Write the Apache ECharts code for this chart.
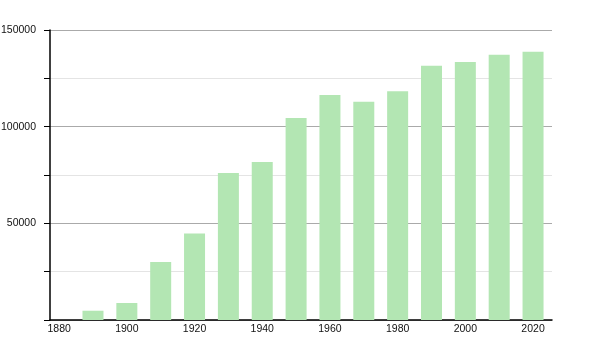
<!DOCTYPE html>
<html><head><meta charset="utf-8">
<script src="https://cdn.jsdelivr.net/npm/echarts@6/dist/echarts.min.js"></script>
<style>html,body{margin:0;padding:0;background:#fff}#c{width:600px;height:350px}</style>
</head><body><div id="c"></div>
<script>
var years = [1890,1900,1910,1920,1930,1940,1950,1960,1970,1980,1990,2000,2010,2020];
var population = [4800,8800,30000,44800,76000,81700,104500,116400,112900,118300,131500,133400,137200,138800];
var xTickLabels = [1880,1900,1920,1940,1960,1980,2000,2020];
var yTickLabels = [50000,100000,150000];

var chart = echarts.init(document.getElementById('c'), null, {renderer:'canvas'});
chart.setOption({
  animation:false,
  backgroundColor:'#fff',
  grid:{left:50,right:48,top:30,bottom:30,containLabel:false,outerBoundsMode:'none'},
  xAxis:{
    type:'value', min:1877.3, max:2025.6,
    axisLine:{show:true,onZero:false,lineStyle:{color:'#000',width:1.5}},
    axisTick:{show:false},
    splitLine:{show:false},
    axisLabel:{customValues:xTickLabels,color:'#111',fontSize:10.5,fontFamily:'Liberation Sans, Arial',margin:4,
      formatter:function(v){return String(v);}}
  },
  yAxis:{
    type:'value', min:0, max:150000, interval:25000,
    axisLine:{show:true,lineStyle:{color:'#000',width:1.5}},
    axisTick:{show:true,length:6,lineStyle:{color:'#000'}},
    splitLine:{show:true,lineStyle:{color:['#aaa','#e4e4e4'],width:1}},
    axisLabel:{color:'#111',fontSize:10.5,fontFamily:'Liberation Sans, Arial',margin:14,
      formatter:function(v){return yTickLabels.indexOf(v)>=0?String(v):'';}}
  },
  series:[{
    type:'bar',
    data:years.map(function(y,i){return [y,population[i]];}),
    barWidth:21,
    itemStyle:{color:'#b3e6b3'}
  }]
});
</script></body></html>
